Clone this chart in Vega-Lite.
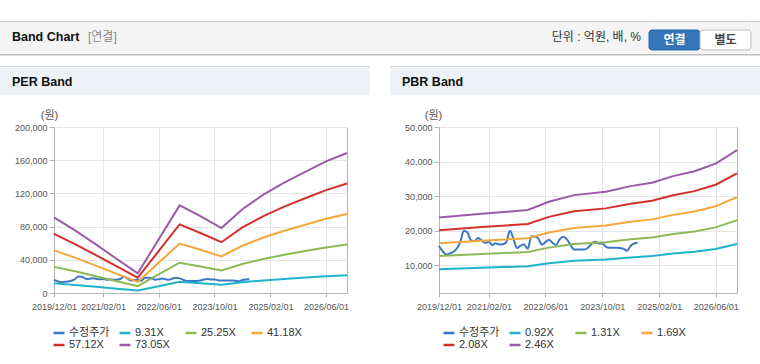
{
  "$schema": "https://vega.github.io/schema/vega-lite/v6.json",
  "padding": {"left": 0, "top": 21, "right": 0, "bottom": 0},
  "autosize": {"type": "pad"},
  "background": "#ffffff",
  "datasets": {
    "price": [
      {"date": "2019/12/01", "value": 15600}, {"date": "2020/01/01", "value": 14100}, {"date": "2020/02/01", "value": 13100},
      {"date": "2020/03/01", "value": 13400}, {"date": "2020/04/01", "value": 13900}, {"date": "2020/05/01", "value": 14800},
      {"date": "2020/06/01", "value": 16800}, {"date": "2020/07/01", "value": 20000}, {"date": "2020/08/01", "value": 19500},
      {"date": "2020/09/01", "value": 17200}, {"date": "2020/10/01", "value": 17000}, {"date": "2020/11/01", "value": 17900},
      {"date": "2020/12/01", "value": 17200}, {"date": "2021/01/01", "value": 16500}, {"date": "2021/02/01", "value": 16800},
      {"date": "2021/03/01", "value": 15900}, {"date": "2021/04/01", "value": 16400}, {"date": "2021/05/01", "value": 16000},
      {"date": "2021/06/01", "value": 16100}, {"date": "2021/07/01", "value": 16800}, {"date": "2021/08/01", "value": 20000},
      {"date": "2021/09/01", "value": 17500}, {"date": "2021/10/01", "value": 15000}, {"date": "2021/11/01", "value": 15700},
      {"date": "2021/12/01", "value": 16000}, {"date": "2022/01/01", "value": 14800}, {"date": "2022/02/01", "value": 18400},
      {"date": "2022/03/01", "value": 18300}, {"date": "2022/04/01", "value": 17800}, {"date": "2022/05/01", "value": 16000},
      {"date": "2022/06/01", "value": 16700}, {"date": "2022/07/01", "value": 17400}, {"date": "2022/08/01", "value": 16500},
      {"date": "2022/09/01", "value": 15900}, {"date": "2022/10/01", "value": 17500}, {"date": "2022/11/01", "value": 18300},
      {"date": "2022/12/01", "value": 17600}, {"date": "2023/01/01", "value": 16000}, {"date": "2023/02/01", "value": 14600},
      {"date": "2023/03/01", "value": 14600}, {"date": "2023/04/01", "value": 14600}, {"date": "2023/05/01", "value": 14600},
      {"date": "2023/06/01", "value": 15100}, {"date": "2023/07/01", "value": 16200}, {"date": "2023/08/01", "value": 16800},
      {"date": "2023/09/01", "value": 16300}, {"date": "2023/10/01", "value": 16300}, {"date": "2023/11/01", "value": 15400},
      {"date": "2023/12/01", "value": 15100}, {"date": "2024/01/01", "value": 15100}, {"date": "2024/02/01", "value": 15100},
      {"date": "2024/03/01", "value": 15000}, {"date": "2024/04/01", "value": 14800}, {"date": "2024/05/01", "value": 14200},
      {"date": "2024/06/01", "value": 15600}, {"date": "2024/07/01", "value": 16300}, {"date": "2024/08/01", "value": 16500}
    ],
    "per": [
      {"date": "2019/12/01", "series": "73.05X", "value": 91000}, {"date": "2020/06/01", "series": "73.05X", "value": 75500},
      {"date": "2020/12/01", "series": "73.05X", "value": 58500}, {"date": "2021/06/01", "series": "73.05X", "value": 41000},
      {"date": "2021/12/01", "series": "73.05X", "value": 23700}, {"date": "2022/06/01", "series": "73.05X", "value": 64500},
      {"date": "2022/12/01", "series": "73.05X", "value": 105600}, {"date": "2023/06/01", "series": "73.05X", "value": 92500},
      {"date": "2023/12/01", "series": "73.05X", "value": 78300}, {"date": "2024/06/01", "series": "73.05X", "value": 101000},
      {"date": "2024/12/01", "series": "73.05X", "value": 118500}, {"date": "2025/06/01", "series": "73.05X", "value": 133000},
      {"date": "2025/12/01", "series": "73.05X", "value": 146000}, {"date": "2026/06/01", "series": "73.05X", "value": 158500},
      {"date": "2026/12/01", "series": "73.05X", "value": 168700},
      {"date": "2019/12/01", "series": "57.12X", "value": 71200}, {"date": "2020/06/01", "series": "57.12X", "value": 59000},
      {"date": "2020/12/01", "series": "57.12X", "value": 45700}, {"date": "2021/06/01", "series": "57.12X", "value": 32100},
      {"date": "2021/12/01", "series": "57.12X", "value": 18500}, {"date": "2022/06/01", "series": "57.12X", "value": 50400},
      {"date": "2022/12/01", "series": "57.12X", "value": 82600}, {"date": "2023/06/01", "series": "57.12X", "value": 72300},
      {"date": "2023/12/01", "series": "57.12X", "value": 61200}, {"date": "2024/06/01", "series": "57.12X", "value": 79000},
      {"date": "2024/12/01", "series": "57.12X", "value": 92700}, {"date": "2025/06/01", "series": "57.12X", "value": 104000},
      {"date": "2025/12/01", "series": "57.12X", "value": 114200}, {"date": "2026/06/01", "series": "57.12X", "value": 123900},
      {"date": "2026/12/01", "series": "57.12X", "value": 131900},
      {"date": "2019/12/01", "series": "41.18X", "value": 51300}, {"date": "2020/06/01", "series": "41.18X", "value": 42600},
      {"date": "2020/12/01", "series": "41.18X", "value": 33000}, {"date": "2021/06/01", "series": "41.18X", "value": 23100},
      {"date": "2021/12/01", "series": "41.18X", "value": 13400}, {"date": "2022/06/01", "series": "41.18X", "value": 36400},
      {"date": "2022/12/01", "series": "41.18X", "value": 59500}, {"date": "2023/06/01", "series": "41.18X", "value": 52100},
      {"date": "2023/12/01", "series": "41.18X", "value": 44100}, {"date": "2024/06/01", "series": "41.18X", "value": 56900},
      {"date": "2024/12/01", "series": "41.18X", "value": 66800}, {"date": "2025/06/01", "series": "41.18X", "value": 75000},
      {"date": "2025/12/01", "series": "41.18X", "value": 82300}, {"date": "2026/06/01", "series": "41.18X", "value": 89400},
      {"date": "2026/12/01", "series": "41.18X", "value": 95100},
      {"date": "2019/12/01", "series": "25.25X", "value": 31500}, {"date": "2020/06/01", "series": "25.25X", "value": 26100},
      {"date": "2020/12/01", "series": "25.25X", "value": 20200}, {"date": "2021/06/01", "series": "25.25X", "value": 14200},
      {"date": "2021/12/01", "series": "25.25X", "value": 8200}, {"date": "2022/06/01", "series": "25.25X", "value": 22300},
      {"date": "2022/12/01", "series": "25.25X", "value": 36500}, {"date": "2023/06/01", "series": "25.25X", "value": 32000},
      {"date": "2023/12/01", "series": "25.25X", "value": 27100}, {"date": "2024/06/01", "series": "25.25X", "value": 34900},
      {"date": "2024/12/01", "series": "25.25X", "value": 41000}, {"date": "2025/06/01", "series": "25.25X", "value": 46000},
      {"date": "2025/12/01", "series": "25.25X", "value": 50500}, {"date": "2026/06/01", "series": "25.25X", "value": 54800},
      {"date": "2026/12/01", "series": "25.25X", "value": 58300},
      {"date": "2019/12/01", "series": "9.31X", "value": 11600}, {"date": "2020/06/01", "series": "9.31X", "value": 9600},
      {"date": "2020/12/01", "series": "9.31X", "value": 7500}, {"date": "2021/06/01", "series": "9.31X", "value": 5200},
      {"date": "2021/12/01", "series": "9.31X", "value": 3000}, {"date": "2022/06/01", "series": "9.31X", "value": 8200},
      {"date": "2022/12/01", "series": "9.31X", "value": 13500}, {"date": "2023/06/01", "series": "9.31X", "value": 11800},
      {"date": "2023/12/01", "series": "9.31X", "value": 10000}, {"date": "2024/06/01", "series": "9.31X", "value": 12900},
      {"date": "2024/12/01", "series": "9.31X", "value": 15100}, {"date": "2025/06/01", "series": "9.31X", "value": 17000},
      {"date": "2025/12/01", "series": "9.31X", "value": 18600}, {"date": "2026/06/01", "series": "9.31X", "value": 20200},
      {"date": "2026/12/01", "series": "9.31X", "value": 21500}
    ],
    "pbr": [
      {"date": "2019/12/01", "series": "2.46X", "value": 23800}, {"date": "2020/12/01", "series": "2.46X", "value": 24900},
      {"date": "2022/01/01", "series": "2.46X", "value": 26000}, {"date": "2022/07/01", "series": "2.46X", "value": 28400},
      {"date": "2023/02/01", "series": "2.46X", "value": 30300}, {"date": "2023/11/01", "series": "2.46X", "value": 31300},
      {"date": "2024/06/01", "series": "2.46X", "value": 32900}, {"date": "2024/12/01", "series": "2.46X", "value": 33900},
      {"date": "2025/06/01", "series": "2.46X", "value": 35800}, {"date": "2025/12/01", "series": "2.46X", "value": 37200},
      {"date": "2026/06/01", "series": "2.46X", "value": 39400}, {"date": "2026/12/01", "series": "2.46X", "value": 43300},
      {"date": "2019/12/01", "series": "2.08X", "value": 20120}, {"date": "2020/12/01", "series": "2.08X", "value": 21050},
      {"date": "2022/01/01", "series": "2.08X", "value": 21980}, {"date": "2022/07/01", "series": "2.08X", "value": 24010},
      {"date": "2023/02/01", "series": "2.08X", "value": 25620}, {"date": "2023/11/01", "series": "2.08X", "value": 26470},
      {"date": "2024/06/01", "series": "2.08X", "value": 27820}, {"date": "2024/12/01", "series": "2.08X", "value": 28660},
      {"date": "2025/06/01", "series": "2.08X", "value": 30270}, {"date": "2025/12/01", "series": "2.08X", "value": 31450},
      {"date": "2026/06/01", "series": "2.08X", "value": 33310}, {"date": "2026/12/01", "series": "2.08X", "value": 36610},
      {"date": "2019/12/01", "series": "1.69X", "value": 16350}, {"date": "2020/12/01", "series": "1.69X", "value": 17110},
      {"date": "2022/01/01", "series": "1.69X", "value": 17860}, {"date": "2022/07/01", "series": "1.69X", "value": 19510},
      {"date": "2023/02/01", "series": "1.69X", "value": 20820}, {"date": "2023/11/01", "series": "1.69X", "value": 21500},
      {"date": "2024/06/01", "series": "1.69X", "value": 22600}, {"date": "2024/12/01", "series": "1.69X", "value": 23290},
      {"date": "2025/06/01", "series": "1.69X", "value": 24590}, {"date": "2025/12/01", "series": "1.69X", "value": 25560},
      {"date": "2026/06/01", "series": "1.69X", "value": 27070}, {"date": "2026/12/01", "series": "1.69X", "value": 29750},
      {"date": "2019/12/01", "series": "1.31X", "value": 12670}, {"date": "2020/12/01", "series": "1.31X", "value": 13260},
      {"date": "2022/01/01", "series": "1.31X", "value": 13850}, {"date": "2022/07/01", "series": "1.31X", "value": 15120},
      {"date": "2023/02/01", "series": "1.31X", "value": 16140}, {"date": "2023/11/01", "series": "1.31X", "value": 16670},
      {"date": "2024/06/01", "series": "1.31X", "value": 17520}, {"date": "2024/12/01", "series": "1.31X", "value": 18050},
      {"date": "2025/06/01", "series": "1.31X", "value": 19060}, {"date": "2025/12/01", "series": "1.31X", "value": 19810},
      {"date": "2026/06/01", "series": "1.31X", "value": 20980}, {"date": "2026/12/01", "series": "1.31X", "value": 23060},
      {"date": "2019/12/01", "series": "0.92X", "value": 8900}, {"date": "2020/12/01", "series": "0.92X", "value": 9310},
      {"date": "2022/01/01", "series": "0.92X", "value": 9720}, {"date": "2022/07/01", "series": "0.92X", "value": 10620},
      {"date": "2023/02/01", "series": "0.92X", "value": 11330}, {"date": "2023/11/01", "series": "0.92X", "value": 11710},
      {"date": "2024/06/01", "series": "0.92X", "value": 12300}, {"date": "2024/12/01", "series": "0.92X", "value": 12680},
      {"date": "2025/06/01", "series": "0.92X", "value": 13390}, {"date": "2025/12/01", "series": "0.92X", "value": 13910},
      {"date": "2026/06/01", "series": "0.92X", "value": 14730}, {"date": "2026/12/01", "series": "0.92X", "value": 16190}
    ],
    "buttons": [{"btn": "연결"}, {"btn": "별도"}],
    "empty": []
  },
  "spacing": 10,
  "resolve": {"scale": {"color": "independent", "fill": "independent", "stroke": "independent"}, "legend": {"color": "independent"}},
  "vconcat": [
    {
      "spacing": 0,
      "vconcat": [
        {"width": 760, "height": 1, "data": {"name": "empty"}, "mark": "text", "encoding": {}, "view": {"fill": "#c6c6c6", "stroke": null}},
        {
          "spacing": 0,
          "hconcat": [
            {"width": 80, "height": 30, "data": {"name": "empty"}, "mark": "text", "encoding": {}, "view": {"fill": "#f4f4f4", "stroke": null},
             "title": {"text": "Band Chart", "anchor": "start", "frame": "group", "offset": 0, "dx": 12, "dy": 31, "baseline": "alphabetic", "fontSize": 12.5, "fontWeight": "bold", "color": "#111111"}},
            {"width": 468, "height": 30, "data": {"name": "empty"}, "mark": "text", "encoding": {}, "view": {"fill": "#f4f4f4", "stroke": null},
             "title": {"text": "[연결]", "anchor": "start", "frame": "group", "offset": 0, "dx": 8, "dy": 31, "baseline": "alphabetic", "fontSize": 12, "fontWeight": "normal", "color": "#8a8a8a"}},
            {"width": 100, "height": 30, "data": {"name": "empty"}, "mark": "text", "encoding": {}, "view": {"fill": "#f4f4f4", "stroke": null},
             "title": {"text": "단위 : 억원, 배, %", "anchor": "end", "frame": "group", "offset": 0, "dx": -7, "dy": 31, "baseline": "alphabetic", "fontSize": 12, "fontWeight": "normal", "color": "#333333"}},
            {
              "spacing": 0,
              "vconcat": [
                {"width": 102, "height": 7, "data": {"name": "empty"}, "mark": "text", "encoding": {}, "view": {"fill": "#f4f4f4", "stroke": null}},
                {
                  "width": 102, "height": 20,
                  "data": {"name": "buttons"},
                  "view": {"fill": "#f4f4f4", "stroke": null},
                  "encoding": {"x": {"field": "btn", "type": "nominal", "sort": ["연결", "별도"], "scale": {"paddingInner": 0, "paddingOuter": 0}, "axis": null}},
                  "layer": [
                    {"mark": {"type": "bar", "cornerRadius": 3, "strokeWidth": 1},
                     "encoding": {
                       "fill": {"field": "btn", "type": "nominal", "scale": {"domain": ["연결", "별도"], "range": ["#3474b8", "#ffffff"]}, "legend": null},
                       "stroke": {"field": "btn", "type": "nominal", "scale": {"domain": ["연결", "별도"], "range": ["#2b619c", "#b9b9b9"]}, "legend": null}
                     }},
                    {"mark": {"type": "text", "fontWeight": "bold", "fontSize": 12},
                     "encoding": {
                       "text": {"field": "btn"},
                       "color": {"field": "btn", "type": "nominal", "scale": {"domain": ["연결", "별도"], "range": ["#ffffff", "#444444"]}, "legend": null}
                     }}
                  ]
                },
                {"width": 102, "height": 3, "data": {"name": "empty"}, "mark": "text", "encoding": {}, "view": {"fill": "#f4f4f4", "stroke": null}}
              ]
            },
            {"width": 10, "height": 30, "data": {"name": "empty"}, "mark": "text", "encoding": {}, "view": {"fill": "#f4f4f4", "stroke": null}}
          ]
        },
        {"width": 760, "height": 1, "data": {"name": "empty"}, "mark": "text", "encoding": {}, "view": {"fill": "#bcbcbc", "stroke": null}},
        {"width": 760, "height": 1, "data": {"name": "empty"}, "mark": "text", "encoding": {}, "view": {"fill": "#e2e2e2", "stroke": null}}
      ]
    },
    {
      "spacing": 20,
      "resolve": {"scale": {"color": "independent"}, "legend": {"color": "independent"}},
      "hconcat": [
        {
          "spacing": 13,
          "vconcat": [
            {
              "spacing": 0,
              "vconcat": [
                {"width": 370, "height": 1, "data": {"name": "empty"}, "mark": "text", "encoding": {}, "view": {"fill": "#d6d9de", "stroke": null}},
                {"width": 370, "height": 28, "data": {"name": "empty"}, "mark": "text", "encoding": {}, "view": {"fill": "#eef2f7", "stroke": null},
                 "title": {"text": "PER Band", "anchor": "start", "frame": "group", "offset": 0, "dx": 12, "dy": 31, "baseline": "alphabetic", "fontSize": 12.5, "fontWeight": "bold", "color": "#111111"}}
              ]
            },
            {
              "spacing": 0,
              "hconcat": [
                {"width": 1, "height": 1, "data": {"name": "empty"}, "mark": "text", "encoding": {}, "view": {"fill": "#ffffff", "stroke": null}},
                {
                  "width": 293, "height": 166,
                  "view": {"stroke": "#b4b4b4", "fill": "#ffffff"},
                  "encoding": {
                    "x": {"field": "date", "type": "temporal",
                          "scale": {"domain": [{"year": 2019, "month": 12, "date": 1}, {"year": 2026, "month": 12, "date": 1}]},
                          "axis": {"values": [{"year": 2019, "month": 12, "date": 1}, {"year": 2021, "month": 2, "date": 1}, {"year": 2022, "month": 6, "date": 1}, {"year": 2023, "month": 10, "date": 1}, {"year": 2025, "month": 2, "date": 1}, {"year": 2026, "month": 6, "date": 1}],
                                   "format": "%Y/%m/%d", "title": null, "grid": true, "labelOverlap": false, "labelFlush": false, "tickSize": 4, "labelPadding": 5}},
                    "y": {"field": "value", "type": "quantitative", "scale": {"domain": [0, 200000], "nice": false},
                          "axis": {"values": [0, 40000, 80000, 120000, 160000, 200000], "format": ",d", "title": "(원)", "titleAngle": 0, "titleX": -5, "titleY": -7, "titleAlign": "center", "titleBaseline": "bottom", "minExtent": 52, "grid": true, "tickSize": 5, "labelPadding": 2, "labelOverlap": false, "labelFlush": false}}
                  },
                  "layer": [
                    {"data": {"name": "price"},
                     "mark": {"type": "line", "strokeWidth": 2, "interpolate": "monotone"},
                     "encoding": {
                       "color": {"datum": "수정주가", "type": "nominal",
                                 "scale": {"domain": ["수정주가", "9.31X", "25.25X", "41.18X", "57.12X", "73.05X"], "range": ["#3a78c4", "#1fb3c9", "#8db955", "#f4a73b", "#d3302b", "#9b5aa8"]},
                                 "legend": {"title": null, "orient": "none", "direction": "horizontal", "legendX": 52, "legendY": 260}}
                     }},
                    {"data": {"name": "per"},
                     "mark": {"type": "line", "strokeWidth": 2},
                     "encoding": {
                       "color": {"field": "series", "type": "nominal",
                                 "scale": {"domain": ["수정주가", "9.31X", "25.25X", "41.18X", "57.12X", "73.05X"], "range": ["#3a78c4", "#1fb3c9", "#8db955", "#f4a73b", "#d3302b", "#9b5aa8"]},
                                 "legend": {"title": null, "orient": "none", "direction": "horizontal", "legendX": 52, "legendY": 260}}
                     }}
                  ]
                }
              ]
            }
          ]
        },
        {
          "spacing": 13,
          "vconcat": [
            {
              "spacing": 0,
              "vconcat": [
                {"width": 370, "height": 1, "data": {"name": "empty"}, "mark": "text", "encoding": {}, "view": {"fill": "#d6d9de", "stroke": null}},
                {"width": 370, "height": 28, "data": {"name": "empty"}, "mark": "text", "encoding": {}, "view": {"fill": "#eef2f7", "stroke": null},
                 "title": {"text": "PBR Band", "anchor": "start", "frame": "group", "offset": 0, "dx": 12, "dy": 31, "baseline": "alphabetic", "fontSize": 12.5, "fontWeight": "bold", "color": "#111111"}}
              ]
            },
            {
              "spacing": 0,
              "hconcat": [
                {"width": 1, "height": 1, "data": {"name": "empty"}, "mark": "text", "encoding": {}, "view": {"fill": "#ffffff", "stroke": null}},
                {
                  "width": 298, "height": 166,
                  "view": {"stroke": "#b4b4b4", "fill": "#ffffff"},
                  "encoding": {
                    "x": {"field": "date", "type": "temporal",
                          "scale": {"domain": [{"year": 2019, "month": 12, "date": 1}, {"year": 2026, "month": 12, "date": 1}]},
                          "axis": {"values": [{"year": 2019, "month": 12, "date": 1}, {"year": 2021, "month": 2, "date": 1}, {"year": 2022, "month": 6, "date": 1}, {"year": 2023, "month": 10, "date": 1}, {"year": 2025, "month": 2, "date": 1}, {"year": 2026, "month": 6, "date": 1}],
                                   "format": "%Y/%m/%d", "title": null, "grid": true, "labelOverlap": false, "labelFlush": false, "tickSize": 4, "labelPadding": 5}},
                    "y": {"field": "value", "type": "quantitative", "scale": {"domain": [2000, 50000], "zero": false, "nice": false},
                          "axis": {"values": [10000, 20000, 30000, 40000, 50000], "format": ",d", "title": "(원)", "titleAngle": 0, "titleX": -6, "titleY": -7, "titleAlign": "center", "titleBaseline": "bottom", "minExtent": 47, "grid": true, "tickSize": 5, "labelPadding": 2, "labelOverlap": false, "labelFlush": false}}
                  },
                  "layer": [
                    {"data": {"name": "price"},
                     "mark": {"type": "line", "strokeWidth": 2, "interpolate": "monotone"},
                     "encoding": {
                       "color": {"datum": "수정주가", "type": "nominal",
                                 "scale": {"domain": ["수정주가", "0.92X", "1.31X", "1.69X", "2.08X", "2.46X"], "range": ["#3a78c4", "#1fb3c9", "#8db955", "#f4a73b", "#d3302b", "#9b5aa8"]},
                                 "legend": {"title": null, "orient": "none", "direction": "horizontal", "legendX": 52, "legendY": 260}}
                     }},
                    {"data": {"name": "pbr"},
                     "mark": {"type": "line", "strokeWidth": 2},
                     "encoding": {
                       "color": {"field": "series", "type": "nominal",
                                 "scale": {"domain": ["수정주가", "0.92X", "1.31X", "1.69X", "2.08X", "2.46X"], "range": ["#3a78c4", "#1fb3c9", "#8db955", "#f4a73b", "#d3302b", "#9b5aa8"]},
                                 "legend": {"title": null, "orient": "none", "direction": "horizontal", "legendX": 52, "legendY": 260}}
                     }}
                  ]
                }
              ]
            }
          ]
        }
      ]
    }
  ],
  "config": {
    "font": "Liberation Sans, Noto Sans CJK KR, sans-serif",
    "view": {"stroke": null},
    "axis": {
      "labelFont": "Liberation Sans, Noto Sans CJK KR, sans-serif",
      "labelFontSize": 9,
      "labelColor": "#555555",
      "titleFont": "Liberation Sans, Noto Sans CJK KR, sans-serif",
      "titleFontSize": 11,
      "titleFontWeight": "normal",
      "titleColor": "#555555",
      "domainColor": "#b4b4b4",
      "tickColor": "#b4b4b4",
      "gridColor": "#e6e6e6"
    },
    "legend": {
      "columns": 4,
      "gridAlign": "all",
      "symbolType": "stroke",
      "symbolSize": 121,
      "symbolStrokeWidth": 2.5,
      "labelFont": "Liberation Sans, Noto Sans CJK KR, sans-serif",
      "labelFontSize": 11,
      "labelColor": "#333333",
      "labelOffset": 3,
      "columnPadding": 4,
      "rowPadding": 0,
      "padding": 0
    }
  }
}
